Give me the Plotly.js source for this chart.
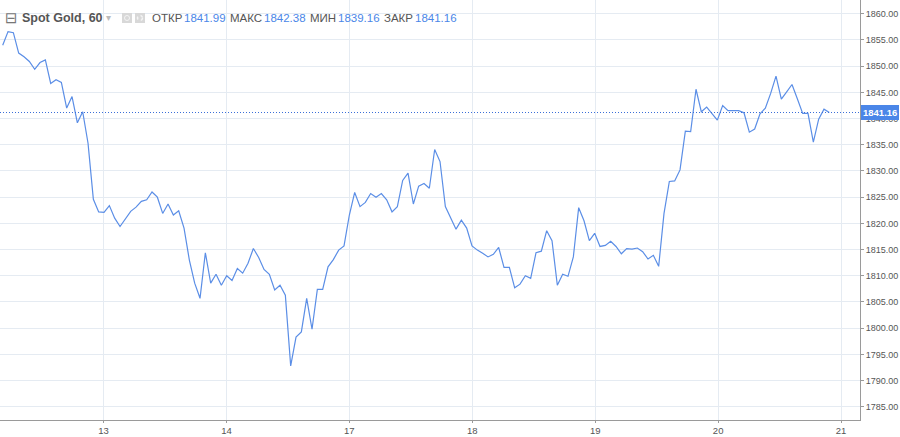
<!DOCTYPE html>
<html>
<head>
<meta charset="utf-8">
<script src="https://cdn.plot.ly/plotly-3.0.1.min.js"></script>
<style>
html,body{margin:0;padding:0;background:#fff;}
#chart{width:900px;height:437px;}
</style>
</head>
<body>
<div id="chart"></div>
<script>
// Hourly closes of Spot Gold
const closes = [
 1854.0, 1856.6, 1856.4, 1852.5, 1851.8, 1850.9, 1849.4, 1850.7, 1851.2, 1846.7,
 1847.4, 1846.9, 1842.0, 1844.2, 1839.2, 1841.3, 1835.3, 1824.6, 1822.2, 1822.1,
 1823.4, 1821.0, 1819.4, 1820.8, 1822.3, 1823.1, 1824.2, 1824.5, 1826.0, 1825.0,
 1821.9, 1823.7, 1821.6, 1822.4, 1819.1, 1813.0, 1808.6, 1805.7, 1814.4, 1808.6,
 1810.3, 1808.2, 1810.0, 1809.1, 1811.4, 1810.5, 1812.4, 1815.2, 1813.5, 1811.2,
 1810.3, 1807.3, 1808.2, 1806.3, 1792.8, 1798.3, 1799.3, 1805.7, 1799.8, 1807.4,
 1807.4, 1811.7, 1813.1, 1814.9, 1815.7, 1821.6, 1825.9, 1823.2, 1824.0, 1825.7,
 1825.0, 1825.7, 1824.5, 1822.2, 1823.2, 1828.2, 1829.6, 1823.7, 1827.1, 1827.6,
 1826.7, 1834.1, 1831.8, 1823.2, 1821.2, 1818.9, 1820.6, 1819.1, 1815.7, 1814.9,
 1814.3, 1813.6, 1814.1, 1815.4, 1811.6, 1811.6, 1807.7, 1808.4, 1810.0, 1809.5,
 1814.4, 1814.7, 1818.6, 1816.7, 1808.2, 1810.3, 1809.9, 1813.6, 1823.0, 1820.5,
 1816.7, 1818.1, 1815.6, 1815.8, 1816.6, 1815.6, 1814.2, 1815.2, 1815.1, 1815.3,
 1814.6, 1813.2, 1813.9, 1811.8, 1821.9, 1828.0, 1828.1, 1830.2, 1837.6, 1837.5,
 1845.6, 1841.3, 1842.2, 1840.9, 1839.7, 1842.5, 1841.5, 1841.5, 1841.5, 1841.1,
 1837.4, 1838.0, 1840.9, 1842.0, 1844.8, 1848.1, 1843.7, 1845.1, 1846.5, 1843.8,
 1841.0, 1841.0, 1835.5, 1839.9, 1841.8, 1841.16
];
const hourIndex = closes.map((_, i) => i);

// Day tick labels (bar index where each day starts)
const dayTickVals = [18.9, 41.95, 65, 88.05, 111.1, 134.15, 157.2];
const dayTickText = ['13', '14', '17', '18', '19', '20', '21'];

const priceTicks = [1785,1790,1795,1800,1805,1810,1815,1820,1825,1830,1835,1840,1845,1850,1855,1860];

const ohlcLabels = ['ОТКР', 'МАКС', 'МИН', 'ЗАКР'];
const ohlcValues = ['1841.99', '1842.38', '1839.16', '1841.16'];
const lastPrice = 1841.16;

const W = 860, H = 420; // plot area in px
const px = v => v / W;
const py = v => 1 - v / H;

const lineColor = '#5b8ee6';
const textGray = '#555555';
const blue = '#4a86e8';

const annotations = [
  {text: '⊟', x: px(3), y: py(18), xref: 'paper', yref: 'paper', xanchor: 'left', yanchor: 'middle',
   showarrow: false, font: {family: 'DejaVu Sans', size: 15, color: '#777'}},
  {text: '<b>Spot Gold, 60</b>', x: px(20), y: py(18), xref: 'paper', yref: 'paper', xanchor: 'left', yanchor: 'middle',
   showarrow: false, font: {family: 'Liberation Sans', size: 12.5, color: textGray}},
  {text: '▾', x: px(104), y: py(18), xref: 'paper', yref: 'paper', xanchor: 'left', yanchor: 'middle',
   showarrow: false, font: {family: 'DejaVu Sans', size: 10, color: '#bbb'}},
  {text: '<b>' + lastPrice.toFixed(2) + '</b>', x: 1, y: lastPrice, xref: 'paper', yref: 'y', xanchor: 'left', yanchor: 'middle',
   showarrow: false, bgcolor: blue, borderpad: 2, borderwidth: 0, xshift: 1,
   font: {family: 'Liberation Sans', size: 9.5, color: '#ffffff'}}
];

const labelX = [150, 228, 308, 382];
const valueX = [182, 262, 336, 413];
ohlcLabels.forEach((lab, i) => {
  annotations.push({text: lab, x: px(labelX[i]), y: py(18), xref: 'paper', yref: 'paper', xanchor: 'left', yanchor: 'middle',
    showarrow: false, font: {family: 'Liberation Sans', size: 11.5, color: textGray}});
  annotations.push({text: ohlcValues[i], x: px(valueX[i]), y: py(18), xref: 'paper', yref: 'paper', xanchor: 'left', yanchor: 'middle',
    showarrow: false, font: {family: 'Liberation Sans', size: 11.5, color: blue}});
});

const shapes = [
  {type: 'line', xref: 'paper', yref: 'y', x0: 0, x1: 1, y0: lastPrice, y1: lastPrice,
   line: {color: '#3b6fd8', width: 1, dash: '1px,2px'}},
  {type: 'rect', xref: 'paper', yref: 'paper', x0: px(122), x1: px(132), y0: py(23), y1: py(13),
   fillcolor: '#d8d8d8', line: {width: 0}},
  {type: 'rect', xref: 'paper', yref: 'paper', x0: px(135), x1: px(145), y0: py(23), y1: py(13),
   fillcolor: '#d8d8d8', line: {width: 0}},
  {type: 'circle', xref: 'paper', yref: 'paper', x0: px(124.5), x1: px(129.5), y0: py(20.5), y1: py(15.5),
   fillcolor: 'rgba(0,0,0,0)', line: {width: 1, color: '#f4f4f4'}},
  {type: 'circle', xref: 'paper', yref: 'paper', x0: px(137.5), x1: px(142.5), y0: py(20.5), y1: py(15.5),
   fillcolor: 'rgba(0,0,0,0)', line: {width: 1.5, color: '#f4f4f4', dash: 'dot'}}
];

const trace = {
  x: hourIndex, y: closes, type: 'scatter', mode: 'lines',
  line: {color: lineColor, width: 1.2}, hoverinfo: 'skip'
};

const layout = {
  width: 900, height: 437,
  margin: {l: 0, r: 40, t: 0, b: 17, pad: 0},
  paper_bgcolor: '#ffffff', plot_bgcolor: '#ffffff',
  showlegend: false,
  xaxis: {
    range: [-0.506, 160.75], tickvals: dayTickVals, ticktext: dayTickText,
    showgrid: true, gridcolor: '#e5ebf2', gridwidth: 1, zeroline: false,
    showline: true, linecolor: '#9a9a9a', linewidth: 1,
    ticks: 'outside', ticklen: 2, tickcolor: '#9a9a9a',
    tickfont: {family: 'Liberation Sans', size: 9.5, color: textGray},
    automargin: false, fixedrange: true
  },
  yaxis: {
    side: 'right', range: [1782.48, 1862.63], tickvals: priceTicks, tickformat: '.2f',
    showgrid: true, gridcolor: '#e5ebf2', gridwidth: 1, zeroline: false,
    showline: true, linecolor: '#9a9a9a', linewidth: 1,
    ticks: 'outside', ticklen: 3, tickcolor: '#9a9a9a',
    tickfont: {family: 'Liberation Sans', size: 9, color: textGray},
    automargin: false, fixedrange: true
  },
  annotations: annotations,
  shapes: shapes
};

Plotly.newPlot('chart', [trace], layout, {displayModeBar: false, staticPlot: true});
</script>
</body>
</html>
